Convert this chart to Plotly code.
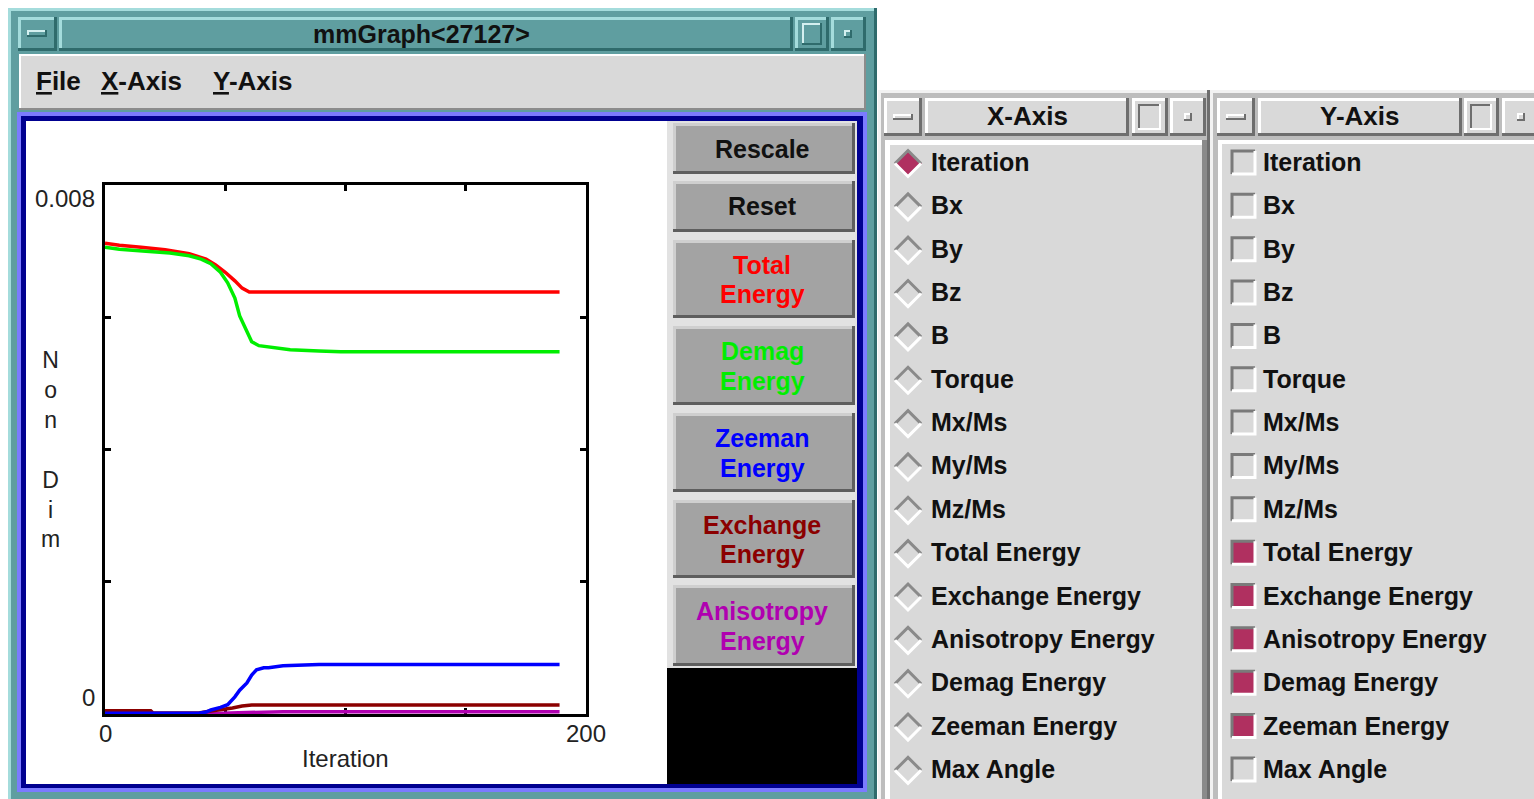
import plotly.graph_objects as go

W, H = 1534, 799

# ---- energy traces (x = iteration, y = non-dimensional energy) ----
total_iter = [0, 6, 15, 25, 35, 42, 46, 50, 54, 57, 60, 189]
total_energy = [0.00712, 0.00709, 0.00706, 0.00702, 0.00696, 0.00688, 0.00679,
                0.00668, 0.00655, 0.00644, 0.00638, 0.00638]

demag_iter = [0, 6, 17, 27, 35, 40, 44, 48, 51, 54, 56, 59, 61, 64, 71, 77, 89, 98, 189]
demag_energy = [0.00706, 0.00703, 0.00700, 0.00697, 0.00693, 0.00688, 0.00681,
                0.00668, 0.00652, 0.00629, 0.00602, 0.00578, 0.00563, 0.00557,
                0.00554, 0.00551, 0.00549, 0.00548, 0.00548]

zeeman_iter = [0, 39, 42, 44, 48, 51, 54, 56, 59, 61, 63, 66, 68, 74, 89, 189]
zeeman_energy = [0.00001, 0.00001, 0.00003, 0.00006, 0.00010, 0.00014, 0.00026,
                 0.00036, 0.00047, 0.00059, 0.00067, 0.00070, 0.00070, 0.00073,
                 0.00075, 0.00075]

exchange_iter = [0, 19, 20, 39, 44, 49, 53, 57, 61, 189]
exchange_energy = [0.00005, 0.00005, 0.000015, 0.000015, 0.000045, 0.000068,
                   0.00009, 0.00012, 0.000136, 0.000136]

anis_iter = [0, 39, 52, 64, 74, 189]
anis_energy = [0.0, 0.0, 0.000015, 0.000023, 0.000035, 0.000035]

# ---- axis ticks ----
x_tickvals = [0, 50, 100, 150, 200]
x_min_label, x_max_label = "0", "200"
y_tickvals = [0, 0.002, 0.004, 0.006, 0.008]
y_min_label, y_max_label = "0", "0.008"

# ---- side panel contents ----
button_labels = [("Total", "Energy"), ("Demag", "Energy"), ("Zeeman", "Energy"),
                 ("Exchange", "Energy"), ("Anisotropy", "Energy")]
button_colors = ["#ff0000", "#00ee00", "#0000ff", "#8b0000", "#b000b0"]
channel_names = ["Iteration", "Bx", "By", "Bz", "B", "Torque", "Mx/Ms", "My/Ms",
                 "Mz/Ms", "Total Energy", "Exchange Energy", "Anisotropy Energy",
                 "Demag Energy", "Zeeman Energy", "Max Angle"]
x_selected = ["Iteration"]
y_selected = ["Total Energy", "Exchange Energy", "Anisotropy Energy",
              "Demag Energy", "Zeeman Energy"]

SANS = "Liberation Sans, Arial, Helvetica, sans-serif"
SELECT = "#b03060"
PANEL = "#d9d9d9"
LABEL_FONT = dict(family=SANS, size=24, color="#222222")

shapes = []
annotations = []


def P(x, y):
    return f"{x / W:.5f},{1 - y / H:.5f}"


def rect(x0, y0, x1, y1, fill):
    x1, y1 = min(x1, W), min(y1, H)
    shapes.append(dict(type="rect", xref="paper", yref="paper",
                       x0=x0 / W, x1=x1 / W, y0=1 - y1 / H, y1=1 - y0 / H,
                       fillcolor=fill, line=dict(width=0), layer="below"))


def bevel(x0, y0, x1, y1, fill, light, dark, t=2):
    rect(x0, y0, x1, y1, fill)
    rect(x0, y0, x1, y0 + t, light)
    rect(x0, y0, x0 + t, y1, light)
    rect(x0, y1 - t, x1, y1, dark)
    rect(x1 - t, y0, x1, y1, dark)


def path(points, color, width, fill=None, closed=False):
    d = "M " + " L ".join(P(x, y) for x, y in points)
    if closed:
        d += " Z"
    shapes.append(dict(type="path", xref="paper", yref="paper", path=d,
                       line=dict(color=color, width=width),
                       fillcolor=fill or "rgba(0,0,0,0)", layer="below"))


def text(x, y, s, size, color="#111111", family=SANS, xanchor="center", yanchor="middle"):
    annotations.append(dict(x=x / W, y=1 - y / H, xref="paper", yref="paper",
                            text=s, showarrow=False, xanchor=xanchor, yanchor=yanchor,
                            font=dict(family=family, size=size, color=color)))


# ---- main graph window ----
TEAL, TEAL_L, TEAL_D = "#5f9ea0", "#a4dcdc", "#2f6b6c"
bevel(8, 8, 877, 806, TEAL, TEAL_L, TEAL_D, 3)
bevel(18, 17, 57, 51, TEAL, TEAL_L, TEAL_D, 3)
bevel(27, 30, 47, 37, TEAL, "#d4f0f0", TEAL_D, 2)
bevel(59, 17, 793, 51, TEAL, TEAL_L, TEAL_D, 3)
bevel(795, 17, 829, 51, TEAL, TEAL_L, TEAL_D, 3)
bevel(802, 23, 822, 45, TEAL, "#d4f0f0", TEAL_D, 2)
bevel(831, 17, 866, 51, TEAL, TEAL_L, TEAL_D, 3)
bevel(844, 30, 852, 38, TEAL, "#d4f0f0", TEAL_D, 2)
text(421, 34, "<b>mmGraph&lt;27127&gt;</b>", 25, "#111111")

bevel(19, 54, 866, 110, PANEL, "#ffffff", "#8c8c8c", 2)
text(34, 81, "<b><u>F</u>ile</b>", 26, "#111111", xanchor="left")
text(99, 81, "<b><u>X</u>-Axis</b>", 26, "#111111", xanchor="left")
text(211, 81, "<b><u>Y</u>-Axis</b>", 26, "#111111", xanchor="left")

# blue frame around plotting canvas
rect(17, 112, 867, 792, "#7b7bff")
rect(21, 116, 863, 788, "#000090")
rect(26, 121, 668, 784, "#ffffff")
rect(667, 121, 857, 784, "#e2e2e2")

# buttons
btn_rows = [(123, 174), (181, 232)] + [(240, 318), (326, 405), (413, 492), (500, 578), (585, 666)]
btn_text = [("Rescale",), ("Reset",)] + button_labels
btn_col = ["#111111", "#111111"] + button_colors
for (y0, y1), lines, col in zip(btn_rows, btn_text, btn_col):
    bevel(673, y0, 855, y1, "#a3a3a3", "#cfcfcf", "#5e5e5e", 3)
    cy = (y0 + y1) / 2
    if len(lines) == 1:
        text(762, cy, f"<b>{lines[0]}</b>", 25, col)
    else:
        text(762, cy - 14.5, f"<b>{lines[0]}</b>", 25, col)
        text(762, cy + 15, f"<b>{lines[1]}</b>", 25, col)
rect(667, 668, 857, 784, "#000000")

# ---- axis selector windows ----
GRAY, GRAY_L, GRAY_D = "#bdbdbd", "#f2f2f2", "#6e6e6e"
row_y = [162 + i * 43.35 for i in range(len(channel_names))]


def selector_window(x0, x1, title, cells):
    bevel(x0, 90, x1, 806, GRAY, GRAY_L, GRAY_D, 3)
    (lx0, lx1), (tx0, tx1), (b1x0, b1x1), (b2x0, b2x1) = cells
    bevel(lx0, 98, lx1, 136, PANEL, "#ffffff", GRAY_D, 3)
    bevel(lx0 + 9, 114, lx1 - 9, 120, PANEL, "#ffffff", GRAY_D, 2)
    bevel(tx0, 98, tx1, 136, PANEL, "#ffffff", GRAY_D, 3)
    text((tx0 + tx1) / 2, 116, f"<b>{title}</b>", 26)
    bevel(b1x0, 98, b1x1, 136, PANEL, "#ffffff", GRAY_D, 3)
    bevel(b1x0 + 6, 104, b1x1 - 7, 130, PANEL, GRAY_D, "#ffffff", 2)
    bevel(b2x0, 98, b2x1, 136, PANEL, "#ffffff", GRAY_D, 3)
    mx = (b2x0 + b2x1) / 2
    bevel(mx - 4, 113, mx + 4, 121, PANEL, "#ffffff", GRAY_D, 2)


selector_window(878, 1210, "X-Axis", [(884, 922), (925, 1129), (1132, 1168), (1170, 1206)])
bevel(885, 140, 1207, 806, PANEL, "#ffffff", "#8a8a8a", 5)
selector_window(1210, 1540, "Y-Axis", [(1217, 1255), (1258, 1462), (1464, 1499), (1502, 1540)])
bevel(1218, 140, 1540, 806, PANEL, "#ffffff", "#8a8a8a", 4)

for name, cy in zip(channel_names, row_y):
    # radio diamond (x-axis channel)
    dx, dy, r, h = 908, cy + 1.5, 13, 13
    if name in x_selected:
        path([(dx - r, dy), (dx, dy - h), (dx + r, dy), (dx, dy + h)], SELECT, 1, fill=SELECT, closed=True)
    path([(dx - r, dy), (dx, dy - h), (dx + r, dy)], "#8a8a8a", 3)
    path([(dx - r, dy), (dx, dy + h), (dx + r, dy)], "#ffffff", 3)
    text(929, cy, f"<b>{name}</b>", 25, xanchor="left")

    # check box (y-axis channel)
    bx0, bx1, by0, by1 = 1232, 1255, cy - 11, cy + 12
    rect(bx0, by0, bx1, by1, SELECT if name in y_selected else PANEL)
    path([(bx0, by1), (bx0, by0), (bx1, by0)], "#7a7a7a", 3)
    path([(bx1, by0), (bx1, by1), (bx0, by1)], "#ffffff", 3)
    text(1261, cy, f"<b>{name}</b>", 25, xanchor="left")

# ---- plot ----
fig = go.Figure()
series = [
    ("Anisotropy Energy", anis_iter, anis_energy, button_colors[4]),
    ("Exchange Energy", exchange_iter, exchange_energy, button_colors[3]),
    ("Total Energy", total_iter, total_energy, button_colors[0]),
    ("Demag Energy", demag_iter, demag_energy, button_colors[1]),
    ("Zeeman Energy", zeeman_iter, zeeman_energy, button_colors[2]),
]
for name, xs, ys, col in series:
    fig.add_trace(go.Scatter(x=xs, y=ys, mode="lines", name=name, showlegend=False,
                             line=dict(color=col, width=3.5), hoverinfo="skip"))

# extreme-value labels of the plotting canvas
annotations.append(dict(x=0.0, y=y_tickvals[-1], xref="paper", yref="y",
                        text=y_max_label, showarrow=False, xanchor="right", yanchor="top",
                        xshift=97, yshift=2, font=LABEL_FONT))
annotations.append(dict(x=0.0, y=y_tickvals[0], xref="paper", yref="y",
                        text=y_min_label, showarrow=False, xanchor="right", yanchor="bottom",
                        xshift=97, yshift=1, font=LABEL_FONT))
for xv, lab in [(x_tickvals[0], x_min_label), (x_tickvals[-1], x_max_label)]:
    annotations.append(dict(x=xv, y=1 - 733 / H, xref="x", yref="paper", text=lab,
                            showarrow=False, xanchor="center", yanchor="middle",
                            font=LABEL_FONT))
text(50, 449.5, "N<br>o<br>n<br><br>D<br>i<br>m", 23, "#222222")
text(345, 758, "Iteration", 24, "#222222")

axis_common = dict(showgrid=False, zeroline=False, showline=True, linecolor="black",
                   linewidth=3, mirror="allticks", ticks="inside", ticklen=6,
                   tickwidth=3, tickcolor="black", layer="below traces",
                   automargin=False, showticklabels=False)
fig.update_layout(
    width=W, height=H, autosize=False,
    margin=dict(l=0, r=0, t=0, b=0, pad=0),
    paper_bgcolor="#ffffff", plot_bgcolor="#ffffff",
    xaxis=dict(domain=[105 / W, 586 / W], range=[0, 200], tickvals=x_tickvals,
               **axis_common),
    yaxis=dict(domain=[1 - 714 / H, 1 - 185 / H], range=[0, 0.008], tickvals=y_tickvals,
               **axis_common),
    shapes=shapes, annotations=annotations,
)

fig.write_html("out.html")
